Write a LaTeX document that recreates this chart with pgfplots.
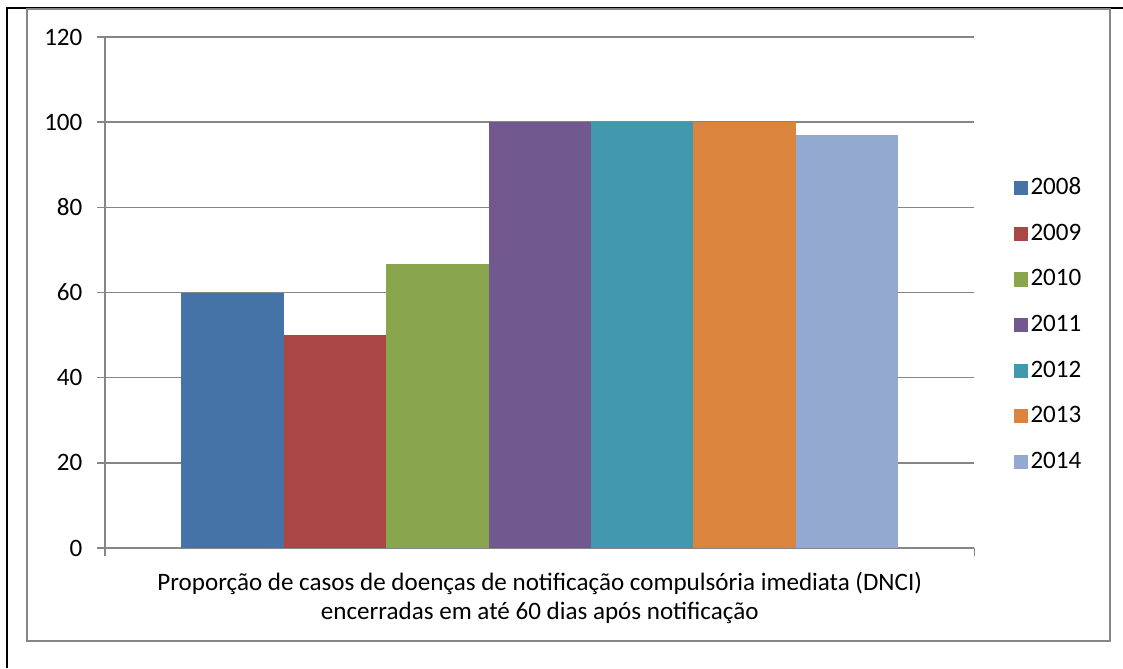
\documentclass[border=0pt]{standalone}
\usepackage{fontspec}
\setmainfont{Carlito}
\usepackage{pgfplots}
\pgfplotsset{compat=1.18}
\definecolor{c2008}{HTML}{4572A7}
\definecolor{c2009}{HTML}{AA4643}
\definecolor{c2010}{HTML}{89A54E}
\definecolor{c2011}{HTML}{71588F}
\definecolor{c2012}{HTML}{4198AF}
\definecolor{c2013}{HTML}{DB843D}
\definecolor{c2014}{HTML}{93A9CF}
\definecolor{axgray}{HTML}{868686}
\newcommand\chartfont{\fontsize{18.8}{21.75}\selectfont}
\begin{document}
\begin{tikzpicture}
\chartfont
% page size: 1123x668 px at 0.75pt/px
\useasboundingbox (0,0) rectangle (842.25pt,501pt);
% black table border (top and left)
\draw[black,line width=1.6pt] (5.25pt,0pt) -- (5.25pt,495pt) -- (842.25pt,495pt);
% chart frame
\draw[axgray,line width=1.3pt] (20.25pt,20.25pt) rectangle (832.5pt,494.25pt);
\begin{axis}[
  at={(78.75pt,90pt)}, anchor=south west,
  width=652.1pt, height=383.25pt, scale only axis,
  ybar=0pt, bar width=76.8pt,
  xmin=-0.5, xmax=0.5, ymin=0, ymax=120,
  ytick={0,20,...,120},
  xtick={-0.5,0.5}, xticklabels={,},
  axis x line*=bottom, axis y line*=left,
  axis line style={axgray,line width=1.1pt},
  ymajorgrids, grid style={axgray,line width=1.1pt},
  tick align=outside, major tick length=6pt,
  tick style={axgray,line width=1.1pt},
  /pgf/number format/assume math mode=true,
  ticklabel style={font=\chartfont},
  yticklabel style={xshift=-4.5pt},
  xlabel={Proporção de casos de doenças de notificação compulsória imediata (DNCI)\\encerradas em até 60 dias após notificação},
  xlabel style={at={(axis description cs:0.5,0)}, anchor=north, yshift=-12pt,
    align=center, font=\chartfont},
  legend style={at={(axis description cs:1.045,0.437)}, anchor=west,
    draw=none, fill=none, row sep=15.2pt, inner sep=0pt,
    font=\chartfont},
  legend cell align=left,
  legend image code/.code={\fill[#1] (0pt,-5.25pt) rectangle (10.5pt,5.25pt);},
]
\addplot[fill=c2008,draw=none] coordinates {(0,60)};
\addplot[fill=c2009,draw=none] coordinates {(0,50)};
\addplot[fill=c2010,draw=none] coordinates {(0,66.7)};
\addplot[fill=c2011,draw=none] coordinates {(0,100)};
\addplot[fill=c2012,draw=none] coordinates {(0,100)};
\addplot[fill=c2013,draw=none] coordinates {(0,100)};
\addplot[fill=c2014,draw=none] coordinates {(0,97)};
\legend{2008,2009,2010,2011,2012,2013,2014}
\end{axis}
\end{tikzpicture}
\end{document}
